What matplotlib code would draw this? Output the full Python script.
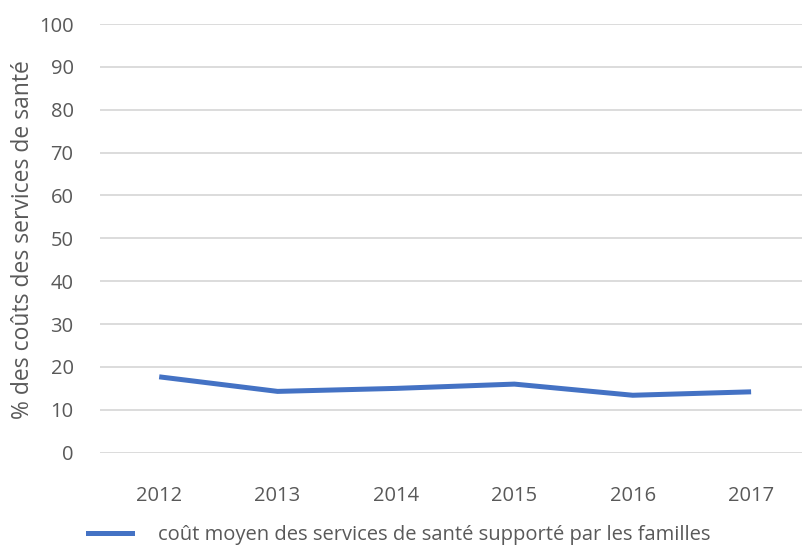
import matplotlib
matplotlib.use("Agg")
import matplotlib.pyplot as plt
from matplotlib.lines import Line2D

years = ["2012", "2013", "2014", "2015", "2016", "2017"]
share_family = [17.7, 14.3, 15.0, 16.0, 13.4, 14.2]
y_ticks = [0, 10, 20, 30, 40, 50, 60, 70, 80, 90, 100]

text_color = "#595959"
grid_color = "#d9d9d9"
line_color = "#4472C4"

plt.rcParams["font.family"] = ["Open Sans", "DejaVu Sans"]

fig = plt.figure(figsize=(8.02, 5.47), dpi=100)
ax = fig.add_axes([100 / 802, (547 - 452.7) / 547, 702 / 802, (452.7 - 24) / 547])

x = list(range(len(years)))
ax.plot(x, share_family, color=line_color, linewidth=3.6, solid_capstyle="butt")

ax.set_xlim(-0.5, 5.43)
ax.set_ylim(0, 100)
ax.set_yticks(y_ticks)
ax.set_xticks(x)
ax.set_xticklabels(years)
ax.grid(axis="y", color=grid_color, linewidth=1.3)
ax.set_axisbelow(True)
for s in ax.spines.values():
    s.set_visible(False)
ax.tick_params(axis="both", length=0, labelsize=14.5, colors=text_color)
ax.tick_params(axis="y", pad=19)
ax.tick_params(axis="x", pad=24)

ax.set_ylabel("% des coûts des services de santé", fontsize=16.5, color=text_color)
ax.yaxis.set_label_coords((35 - 100) / 702, (452.7 - 240) / (452.7 - 24))

handle = Line2D([0], [0], color=line_color, linewidth=3.6)
fig.legend([handle], ["coût moyen des services de santé supporté par les familles"],
           loc="center", bbox_to_anchor=(399 / 802, 1 - 535 / 547), frameon=False,
           fontsize=14.5, labelcolor=text_color, handlelength=2.2, handletextpad=1.3)

fig.savefig("out.png", dpi=100)
